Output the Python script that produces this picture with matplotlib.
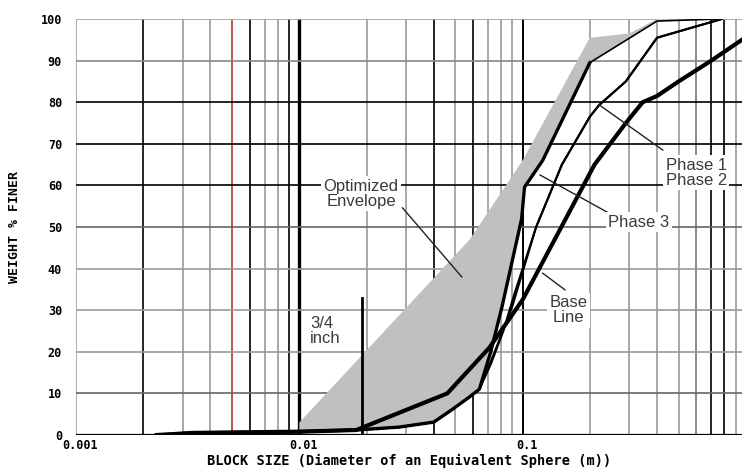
import matplotlib
matplotlib.use("Agg")
import matplotlib.pyplot as plt
from matplotlib.transforms import ScaledTranslation

# block size (m) and percent finer for each gradation curve
base_size = [0.0023, 0.0027, 0.0033, 0.01, 0.018, 0.046, 0.071, 0.1, 0.21, 0.29, 0.345, 0.4, 0.5, 0.7, 0.96]
base_pct = [0, 0.2, 0.5, 0.8, 1.2, 10, 21, 32.5, 65, 75, 80, 81.5, 85, 90, 95]

phase3_size = [0.0023, 0.0027, 0.0033, 0.01, 0.018, 0.028, 0.04, 0.048, 0.058, 0.064, 0.072, 0.081, 0.09, 0.099, 0.102, 0.123, 0.2, 0.4, 0.75]
phase3_pct = [0, 0.2, 0.5, 0.8, 1.2, 1.9, 3.1, 6, 9.2, 11, 20, 31, 42, 52, 59.6, 66, 89.5, 99.5, 100]

phase1_size = [0.0023, 0.0027, 0.0033, 0.01, 0.018, 0.028, 0.04, 0.048, 0.058, 0.064, 0.075, 0.09, 0.115, 0.15, 0.2, 0.22, 0.29, 0.4, 0.78]
phase1_pct = [0, 0.2, 0.5, 0.8, 1.2, 1.9, 3.1, 6, 9.2, 11, 20, 31, 50, 65, 76.5, 79.3, 85, 95.5, 100]

phase2_size = [0.0023, 0.0027, 0.0033, 0.01, 0.018, 0.028, 0.04, 0.048, 0.058, 0.064, 0.072, 0.082, 0.092, 0.115, 0.15, 0.2, 0.22, 0.29, 0.4, 0.78]
phase2_pct = [0, 0.2, 0.5, 0.8, 1.2, 1.9, 3.1, 6, 9.2, 11, 17, 25, 34, 50, 65, 76.5, 79.3, 85, 95.5, 100]

# upper limit of the optimized envelope (lower limit is phase 3)
env_top_size = [0.01, 0.058, 0.1, 0.2, 0.3, 0.4, 0.75]
env_top_pct = [3, 47, 66, 95.5, 96.5, 100, 100]

three_quarter_inch = 0.01905
three_quarter_top = 33

grid_x = [0.001, 0.002, 0.003, 0.004, 0.005, 0.006, 0.007, 0.008, 0.009, 0.01,
          0.02, 0.03, 0.04, 0.05, 0.06, 0.07, 0.08, 0.09, 0.1,
          0.2, 0.3, 0.4, 0.5, 0.6, 0.7, 0.8, 0.9]
grid_x_col = ['#a0a0a0', 'k', '#999999', '#999999', '#b03a3a', 'k', '#999999', '#999999', 'k', 'k',
              '#999999', '#999999', 'k', '#999999', 'k', '#999999', '#999999', '#999999', 'k',
              '#999999', '#999999', '#999999', '#999999', '#777777', 'k', 'k', '#999999']
grid_y = [0, 10, 20, 30, 40, 50, 60, 70, 80, 90, 100]
grid_y_col = ['k', '#666666', '#999999', '#999999', '#999999', '#666666', 'k', 'k', 'k', '#888888', '#a0a0a0']

plt.rcParams['font.family'] = ['Liberation Sans', 'DejaVu Sans']

fig = plt.figure(figsize=(7.42, 4.69), dpi=100)
ax = fig.add_axes([76 / 742, 34 / 469, 666 / 742, 416 / 469])
ax.set_xscale('log')
ax.set_xlim(0.001, 10 ** (-3 + 666 / 223.3))
ax.set_ylim(0, 100)
for s in ax.spines.values():
    s.set_visible(False)

# grid
for v, c in zip(grid_x, grid_x_col):
    lw = 2.4 if v == 0.01 else (1.4 if v == 0.1 else 1.2)
    ax.axvline(v, color=c, lw=lw, zorder=1)
for v, c in zip(grid_y, grid_y_col):
    ax.axhline(v, color=c, lw=1.6 if v == 0 else 1.2, zorder=1)

# envelope: top limit out, phase 3 back
poly_x = env_top_size + [x for x in phase3_size[::-1] if x >= 0.01]
poly_y = env_top_pct + [p for x, p in zip(phase3_size[::-1], phase3_pct[::-1]) if x >= 0.01]
ax.fill(poly_x, poly_y, color='#c0c0c0', lw=0, zorder=2)

# curves
ax.plot(base_size, base_pct, color='k', lw=3.0, zorder=4, solid_joinstyle='round')
ax.plot(phase1_size, phase1_pct, color='k', lw=1.5, zorder=4)
ax.plot(phase2_size, phase2_pct, color='k', lw=1.5, zorder=4)
# phase 3 is heavy up to 0.2 m, thin beyond
ax.plot(phase3_size[:-2], phase3_pct[:-2], color='k', lw=2.4, zorder=4, solid_joinstyle='round')
ax.plot(phase3_size[-3:], phase3_pct[-3:], color='k', lw=1.2, zorder=4)

# 3/4 inch marker
ax.plot([three_quarter_inch, three_quarter_inch], [0, three_quarter_top], color='k', lw=2, zorder=5)

txt = dict(fontsize=12, color='#3a3a3a', zorder=6)
box = dict(boxstyle='square,pad=0.15', fc='white', ec='none')
ax.text(0.0189, 58, 'Optimized\nEnvelope', ha='center', va='center', linespacing=1.0, bbox=box, **txt)
ax.text(0.0112, 25, '3/4\ninch', ha='left', va='center', linespacing=1.0, **txt)
ax.text(0.437, 63, 'Phase 1\nPhase 2', ha='left', va='center', linespacing=1.0, bbox=box, **txt)
ax.text(0.2416, 51.2, 'Phase 3', ha='left', va='center', bbox=box, **txt)
ax.text(0.16, 30, 'Base\nLine', ha='center', va='center', linespacing=1.0, bbox=box, **txt)

leaders = [((0.029, 54.6), (0.0534, 38)),
           ((0.2211, 79.3), (0.4244, 68.5)),
           ((0.1197, 62.5), (0.2387, 53.6)),
           ((0.123, 38.9), (0.1548, 34.9))]
for a, b in leaders:
    ax.plot([a[0], b[0]], [a[1], b[1]], color='#222222', lw=1.0, zorder=5)

mono = dict(family='DejaVu Sans Mono', weight='bold')
ax.set_yticks(grid_y)
ax.set_yticklabels([str(v) for v in grid_y], fontsize=8.5, **mono)
ax.set_xticks([0.001, 0.01, 0.1])
ax.set_xticklabels(['0.001', '0.01', '0.1'], fontsize=8.5, **mono)
ax.minorticks_off()
ax.tick_params(length=0)
ax.tick_params(axis='y', pad=10)
ax.tick_params(axis='x', pad=3)
shift = ScaledTranslation(4 / 100, 0, fig.dpi_scale_trans)
for lab in ax.get_xticklabels():
    lab.set_transform(lab.get_transform() + shift)
ax.set_xlabel('BLOCK SIZE (Diameter of an Equivalent Sphere (m))', fontsize=9.8, labelpad=1, **mono)
ax.set_ylabel('WEIGHT % FINER', fontsize=9.5, labelpad=14, **mono)

fig.savefig('out.png', dpi=100)
